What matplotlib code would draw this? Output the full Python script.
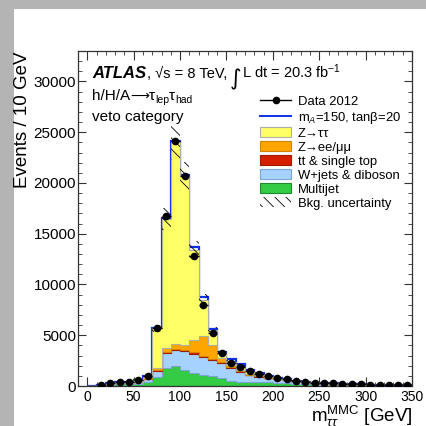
import matplotlib
import numpy as np

matplotlib.use("Agg")
import matplotlib.pyplot as plt
from matplotlib.lines import Line2D
from matplotlib.patches import Patch, Rectangle

# 10 GeV bins in m_tautau^MMC
edges = np.arange(0, 360, 10)

data = [0, 50, 260, 430, 430, 560, 990, 5700, 16750, 24150, 20700, 12850, 8000, 5200,
        3300, 2300, 1900, 1500, 1220, 950, 790, 660, 520, 430, 330, 330, 260, 200, 190,
        150, 120, 100, 100, 90, 60]
multijet = [0, 20, 100, 160, 160, 200, 430, 900, 1780, 2000, 1550, 1280, 1120, 950, 760,
            450, 430, 420, 400, 380, 300, 260, 230, 200, 150, 130, 100, 70, 60, 45, 35,
            28, 22, 18, 15]
wjets = [0, 15, 80, 120, 120, 170, 230, 600, 1470, 1580, 1870, 1910, 1740, 1650, 1480,
         1350, 980, 660, 520, 400, 360, 320, 240, 190, 150, 160, 136, 110, 110, 94, 78,
         66, 68, 62, 46]
top = [0, 0, 0, 5, 5, 10, 10, 30, 80, 100, 100, 120, 120, 100, 90, 70, 60, 50, 40, 30,
       30, 25, 20, 15, 12, 12, 10, 8, 7, 5, 4, 3, 3, 3, 2]
zll = [0, 5, 20, 40, 40, 50, 190, 270, 420, 460, 520, 1260, 1920, 1300, 400, 180, 110,
       100, 80, 50, 40, 25, 15, 12, 8, 8, 6, 5, 4, 3, 2, 2, 1, 1, 1]
ztt = [0, 10, 60, 100, 110, 150, 130, 3900, 12700, 19860, 16610, 8830, 3580, 1500, 490,
       350, 320, 220, 160, 90, 60, 30, 15, 13, 10, 10, 8, 7, 4, 3, 1, 1, 1, 1, 1]
signal = [0, 0, 0, 0, 0, 0, 0, 50, 100, 150, 100, 340, 330, 150, 160, 300, 300, 130, 80,
          50, 30, 20, 15, 10, 8, 6, 5, 4, 3, 3, 2, 2, 2, 1, 1]
bkg_unc = [0, 5, 20, 30, 30, 40, 70, 350, 1100, 1700, 1400, 900, 550, 350, 230, 160, 130,
           100, 80, 65, 50, 45, 35, 30, 25, 22, 18, 15, 14, 12, 10, 8, 7, 6, 5]

stack = [
    (multijet, "#33cc44", "#1e8a2a", "Multijet"),
    (wjets, "#a6d2ff", "#7aa6d6", "W+jets & diboson"),
    (top, "#d42000", "#a01800", "tt & single top"),
    (zll, "#ffa500", "#d08400", "Z→ee/μμ"),
    (ztt, "#ffff66", "#b0b0a0", "Z→ττ"),
]

plt.rcParams["font.family"] = ["Liberation Sans", "DejaVu Sans"]
plt.rcParams["mathtext.fontset"] = "custom"
plt.rcParams["mathtext.rm"] = "Liberation Sans"
plt.rcParams["mathtext.it"] = "Liberation Sans:italic"
plt.rcParams["mathtext.bf"] = "Liberation Sans:bold"
plt.rcParams["hatch.linewidth"] = 0.6

fig = plt.figure(figsize=(4.26, 4.26), dpi=100, facecolor="#b4b4b4")
fig.patches.append(Rectangle((14 / 426, 0), 1, 417 / 426, transform=fig.transFigure,
                             facecolor="white", edgecolor="none", zorder=-1))
ax = fig.add_axes([78 / 426, 40 / 426, 334 / 426, 335 / 426])

lower = np.zeros(len(edges) - 1)
for vals, face, edge, _ in stack:
    vals = np.asarray(vals, dtype=float)
    ax.stairs(lower + vals, edges, baseline=lower.copy(), fill=True,
              facecolor=face, edgecolor=edge, linewidth=0.8, zorder=2)
    lower = lower + vals
total = lower

# signal stacked on the background; drawn underneath so only the excess shows
ax.stairs(total + np.asarray(signal), edges, color="#1030e8", linewidth=1.6,
          baseline=None, zorder=1.5)

unc = np.asarray(bkg_unc, dtype=float)
ax.stairs(total + unc, edges, baseline=total - unc, fill=True, facecolor="none",
          edgecolor="black", linewidth=0, hatch="\\\\\\", zorder=3)

centers = 0.5 * (edges[:-1] + edges[1:])
d = np.asarray(data, dtype=float)
m = d > 0
ax.errorbar(centers[m], d[m], yerr=np.sqrt(d[m]), xerr=5, fmt="o", color="black",
            ms=4.5, lw=1, capsize=0, zorder=5)

ax.set_xlim(-10, 350)
ax.set_ylim(0, 33000)
ax.set_xticks(np.arange(0, 351, 50))
ax.set_xticks(np.arange(-10, 351, 10), minor=True)
ax.set_yticks(np.arange(0, 30001, 5000))
ax.set_yticks(np.arange(0, 33001, 1000), minor=True)
ax.tick_params(which="both", direction="in", top=True, right=True, color="#333333")
ax.tick_params(axis="x", which="major", length=6.5, labelsize=10, pad=3)
ax.tick_params(axis="x", which="minor", length=3.2)
ax.tick_params(axis="y", which="major", length=5.8, labelsize=11, pad=1.5)
ax.tick_params(axis="y", which="minor", length=2.9)
for s in ax.spines.values():
    s.set_color("#333333")
    s.set_linewidth(0.9)

ax.set_ylabel("Events / 10 GeV", fontsize=13.5, loc="top", labelpad=2)
ax.set_xlabel(r"m$_{\tau\tau}^{\mathrm{MMC}}$ [GeV]", fontsize=13.5, loc="right",
              labelpad=0)

renderer = fig.canvas.get_renderer()
to_axes = ax.transAxes.inverted()
px_x = 1 / 334
px_y = 1 / 335


def chain(x0, y0, pieces):
    # lay text pieces out left to right, each (text, dy_px, gap_px, style)
    x = x0
    for txt, dy, gap, kw in pieces:
        t = ax.text(x, y0 + dy * px_y, txt, transform=ax.transAxes, va="baseline", **kw)
        bb = t.get_window_extent(renderer)
        x = to_axes.transform((bb.x1, bb.y0))[0] + gap * px_x


chain(0.044, 0.919, [
    ("ATLAS", 0, 0, dict(fontsize=12, fontweight="bold", fontstyle="italic")),
    (", √s = 8 TeV, ", 0, -1, dict(fontsize=10.5)),
    ("∫", -7, 0, dict(fontsize=16, family="DejaVu Sans")),
    (r"L dt = 20.3 fb$^{-1}$", 0, 0, dict(fontsize=10.5)),
])
chain(0.042, 0.854, [
    ("h/H/A", 0, 0, dict(fontsize=11)),
    ("⟶", 0, 0, dict(fontsize=9.5, family="DejaVu Sans")),
    ("τ", 0, 0, dict(fontsize=11)),
    ("lep", -3, 0, dict(fontsize=7.5)),
    ("τ", 0, 0, dict(fontsize=11)),
    ("had", -3, 0, dict(fontsize=7.5)),
])
ax.text(0.042, 0.790, "veto category", transform=ax.transAxes, fontsize=11,
        va="baseline")

handles = [
    Line2D([], [], color="black", marker="o", ms=4.5, lw=1),
    Line2D([], [], color="#1030e8", lw=1.4),
]
labels = ["Data 2012", r"m$_A$=150, tanβ=20"]
for vals, face, edge, name in reversed(stack):
    handles.append(Patch(facecolor=face, edgecolor=edge, linewidth=0.8))
    labels.append(name)
handles.append(Patch(facecolor="none", edgecolor="black", linewidth=0, hatch="\\\\\\"))
labels.append("Bkg. uncertainty")

ax.legend(handles, labels, loc="upper left", bbox_to_anchor=(0.545, 0.867),
          frameon=False, fontsize=9.4, handlelength=2.4, handleheight=0.85,
          handletextpad=0.5, labelspacing=0.1, borderpad=0, borderaxespad=0)

fig.savefig("out.png", dpi=100, facecolor=fig.get_facecolor())
